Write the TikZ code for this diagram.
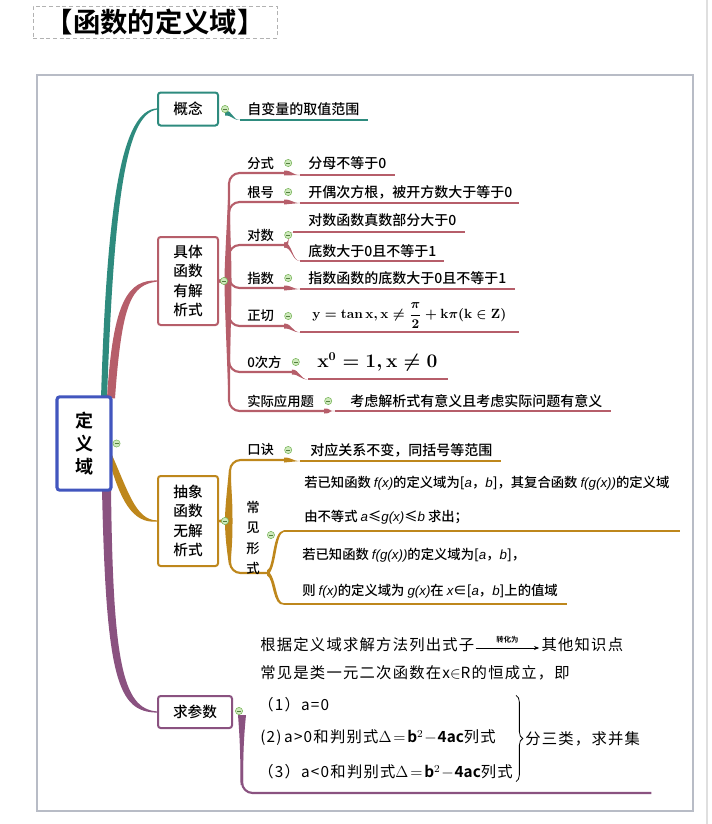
\documentclass[tikz,border=0pt]{standalone}
\usepackage{fontspec}
\setmainfont{Noto Sans CJK SC}[UprightFont=* Medium, BoldFont=* Bold]
\newfontfamily\lsans{Liberation Sans}
\newfontfamily\qfont{Noto Sans CJK SC}[LetterSpace=8.0]
\usetikzlibrary{
  arrows.meta,
  backgrounds,
  calc,
  decorations.pathreplacing,
  positioning,
}
\definecolor{cteal}{RGB}{46,139,126}
\definecolor{crose}{RGB}{182,94,106}
\definecolor{cgold}{RGB}{190,135,28}
\definecolor{cpurple}{RGB}{138,82,128}
\definecolor{cblue}{RGB}{66,86,190}
\definecolor{cframe}{RGB}{184,188,198}
\definecolor{cfold}{RGB}{206,234,188}
\definecolor{cfoldline}{RGB}{120,180,90}
\newcommand{\vi}[1]{{\lsans\itshape #1}}
% collapse mark
\newcommand{\fold}[1]{%
  \filldraw[draw=cfoldline, fill=cfold, line width=0.4pt] (#1) circle[radius=3.6];
  \draw[cfoldline!70!black, line width=0.5pt] ($(#1)+(-2,0)$) -- ($(#1)+(2,0)$);}
% tapered piece from a tag line to a leaf line
\newcommand{\twig}[3]{%
  \fill[#1] ($(#2)+(0,-2.5)$) .. controls +(8,0) and +(-8,0) .. (#3)
    .. controls +(-8,0) and +(8,0) .. ($(#2)+(0,2.5)$) -- cycle;}

\begin{document}
\begin{tikzpicture}[x=0.75pt, y=-0.75pt,
  topic/.style={draw=#1, line width=1.5pt, rounded corners=2pt, fill=white,
    inner sep=0pt, align=center, font=\fontsize{11}{14.6}\selectfont},
  tag/.style={inner sep=0pt, anchor=west, font=\fontsize{10}{12}\selectfont},
  leaf/.style={inner sep=0pt, anchor=west, font=\fontsize{10.5}{12}\selectfont},
  note/.style={inner sep=0pt, anchor=west, font=\fontsize{10}{12}\selectfont},
  qtext/.style={inner sep=0pt, anchor=west, font=\qfont\fontsize{11.5}{14}\selectfont},
  branch/.style={line width=1.6pt, rounded corners=8pt},
  uline/.style={draw=#1, line width=1.5pt},
]
\useasboundingbox (0,0) rectangle (712,824);

% title and frame
\node[draw=gray!60, dash pattern=on 3pt off 2pt, line width=0.6pt, minimum width=183pt,
  minimum height=24pt, inner sep=0pt, font=\fontsize{20.5}{24}\selectfont\bfseries]
  (title) at (155,22) {【函数的定义域】};
\draw[cframe, line width=1.1pt] (37,75) rectangle (693,811);
\draw[gray!25, line width=0.8pt] (707,0) -- (707,824);

% topics
\node[topic=cblue, line width=2.3pt, minimum width=40.5pt, minimum height=70pt,
  font=\fontsize{13.5}{17}\selectfont\bfseries] (def) at (84,443.5) {定\\义\\域};
\node[topic=cteal, minimum width=45pt, minimum height=24.75pt] (gn) at (188,109) {概念};
\node[topic=crose, minimum width=45pt, minimum height=66pt] (jt) at (188,281) {具体\\函数\\有解\\析式};
\node[topic=cgold, minimum width=45pt, minimum height=67.5pt] (ab) at (188,521) {抽象\\函数\\无解\\析式};
\node[topic=cpurple, minimum width=55.5pt, minimum height=24pt] (qc) at (195,712) {求参数};

% concept
\node[leaf] (gnc) at (247,109) {自变量的取值范围};

% explicit functions
\node[tag] (fs) at (247,163) {分式};
\node[tag] (gh) at (247,192) {根号};
\node[tag] (ds) at (247,235) {对数};
\node[tag] (zs) at (247,278) {指数};
\node[tag] (zqt) at (247,316) {正切};
\node[tag] (lc) at (247,362) {0次方};
\node[tag] (sj) at (247,401) {实际应用题};
\node[leaf] (fsc) at (308,163) {分母不等于0};
\node[leaf] (ghc) at (308,192) {开偶次方根，被开方数大于等于0};
\node[leaf] (dsa) at (308,220) {对数函数真数部分大于0};
\node[leaf] (dsb) at (308,251) {底数大于0且不等于1};
\node[leaf] (zsc) at (308,278) {指数函数的底数大于0且不等于1};
\node[leaf, font=\fontsize{10}{12}\selectfont\boldmath] (zqc) at (312,316)
  {$\mathbf{y}=\mathbf{tan}\,\mathbf{x},\mathbf{x}\neq\displaystyle\frac{\pi}{\mathbf{2}}+\mathbf{k}\pi(\mathbf{k}\in\mathbf{Z})$};
\node[leaf, font=\fontsize{13.5}{16}\selectfont\boldmath] (lcc) at (317,362)
  {$\mathbf{x}^{\mathbf{0}}=\mathbf{1},\mathbf{x}\neq\mathbf{0}$};
\node[leaf] (sjc) at (350,401) {考虑解析式有意义且考虑实际问题有意义};

% abstract functions
\node[tag] (kj) at (247,450) {口诀};
\node[leaf] (kjc) at (310,450) {对应关系不变，同括号等范围};
\node[tag, anchor=center, align=center, font=\fontsize{10}{15.4}\selectfont] (cj) at (253,538) {常\\见\\形\\式};
\node[note] (ra) at (304,483) {若已知函数 \vi{f(x)}的定义域为[\vi{a}，\vi{b}]，其复合函数 \vi{f(g(x))}的定义域};
\node[note] (rb) at (304,517) {由不等式 \vi{a}≤\vi{g(x)}≤\vi{b} 求出；};
\node[note] (rc) at (302,555) {若已知函数 \vi{f(g(x))}的定义域为[\vi{a}，\vi{b}]，};
\node[note] (rd) at (302,591) {则 \vi{f(x)}的定义域为 \vi{g(x)}在 \vi{x}∈[\vi{a}，\vi{b}]上的值域};
\coordinate (k2e) at (267,573);
\coordinate (lt) at (284,531);
\coordinate (lb) at (284,604);

% parameters
\node[qtext] (qa) at (260,645) {根据定义域求解方法列出式子};
\node[qtext, right=50pt of qa] (qb) {其他知识点};
\draw[-{Stealth[length=4pt,width=3pt]}, line width=0.6pt] ($(qa.east)+(1,3)$) --
  node[above=0pt, font=\fontsize{5.5}{6}\selectfont\bfseries] (zh) {转化为} ($(qb.west)+(-2,3)$);
\node[qtext] (qd) at (260,673) {常见是类一元二次函数在x$\in$R的恒成立，即};
\node[qtext] (q1) at (258,705) {（1）a=0};
\node[qtext] (q2) at (260,738) {(2)\,a>0和判别式$\Delta\!=\!\mathbf{b}^{2}\!-\!\mathbf{4ac}$列式};
\node[qtext] (q3) at (258,772) {（3）a<0和判别式$\Delta\!=\!\mathbf{b}^{2}\!-\!\mathbf{4ac}$列式};
\coordinate (bt) at ($(q3.east |- q1.north)+(3,-2)$);
\coordinate (bb) at ($(q3.east |- q3.south)+(3,2)$);
\draw[decorate, decoration={brace, amplitude=5pt}, line width=0.6pt] (bt) -- (bb);
\node[qtext] (q6) at ($(bt)!0.5!(bb)+(9,0)$) {分三类，求并集};
\coordinate (pb) at (250,793);

\begin{scope}[on background layer]
% main branches
\fill[cteal] ($(def.north)+(17,3)$) .. controls (107,200) and (122,110) .. ($(gn.west)+(0,-0.6)$)
  -- ($(gn.west)+(0,0.6)$) .. controls (126,114) and (114,200) .. ($(def.north)+(23,3)$) -- cycle;
\fill[crose] ($(def.north)+(23,3)$) .. controls (113,300) and (128,280) .. ($(jt.west)+(0,-0.6)$)
  -- ($(jt.west)+(0,0.6)$) .. controls (132,285) and (122,300) .. ($(def.north)+(31,3)$) -- cycle;
\fill[cgold] ($(def.east)+(-3,6)$) .. controls (128,490) and (135,520) .. ($(ab.west)+(0,-0.6)$)
  -- ($(ab.west)+(0,0.6)$) .. controls (131,524) and (120,497) .. ($(def.east)+(-3,19)$) -- cycle;
\fill[cpurple] ($(def.south)+(18,-3)$) .. controls (106,680) and (118,712) .. ($(qc.west)+(0,0.6)$)
  -- ($(qc.west)+(0,-0.6)$) .. controls (122,709) and (113,660) .. ($(def.south)+(27,-3)$) -- cycle;

% concept
\twig{cteal}{$(gn.east)+(6,4)$}{$(gnc.west)+(-7,11)$}
\draw[uline=cteal] ($(gnc.west)+(-7,11)$) -- ($(gnc.east)+(8,11)$);

% explicit functions
\foreach \l in {fs,gh,ds,zs,zqt,lc,sj}
  \draw[crose, branch] (jt.east) -- ++(10,0) |- ($(\l.east)+(10,10)$);
\fill[crose] (228,200) .. controls (225,260) and (224.5,270) .. (224.5,281)
  .. controls (224.5,292) and (225,310) .. (228,385) -- (229,385)
  .. controls (231.5,310) and (231.5,292) .. (231.5,281)
  .. controls (231.5,270) and (231.5,260) .. (229,200) -- cycle;
\twig{crose}{$(fs.east)+(10,10)$}{$(fsc.west)+(-8,12)$}
\twig{crose}{$(gh.east)+(10,10)$}{$(ghc.west)+(-8,11)$}
\twig{crose}{$(ds.east)+(10,10)$}{$(dsa.west)+(-15,12)$}
\twig{crose}{$(ds.east)+(10,10)$}{$(dsb.west)+(-8,10)$}
\twig{crose}{$(zs.east)+(10,10)$}{$(zsc.west)+(-8,11)$}
\twig{crose}{$(zqt.east)+(10,10)$}{$(zqc.south west)+(-12,3)$}
\twig{crose}{$(lc.east)+(10,10)$}{$(lcc.south west)+(-9,8)$}
\twig{crose}{$(sj.east)+(10,10)$}{$(sjc.west)+(-15,10)$}
\draw[uline=crose] ($(fsc.west)+(-8,12)$) -- ($(fsc.east)+(8,12)$);
\draw[uline=crose] ($(ghc.west)+(-8,11)$) -- ($(ghc.east)+(6,11)$);
\draw[uline=crose] ($(dsa.west)+(-15,12)$) -- ($(dsa.east)+(8,12)$);
\draw[uline=crose] ($(dsb.west)+(-8,10)$) -- ($(dsb.east)+(8,10)$);
\draw[uline=crose] ($(zsc.west)+(-8,11)$) -- ($(zsc.east)+(8,11)$);
\draw[uline=crose] ($(zqc.south west)+(-12,3)$) -- ($(zqc.south east)+(12,3)$);
\draw[uline=crose] ($(lcc.south west)+(-9,8)$) -- ($(lcc.south east)+(10,8)$);
\draw[uline=crose] ($(sjc.west)+(-15,10)$) -- ($(sjc.east)+(8,10)$);

% abstract functions
\draw[cgold, branch] (ab.east) -- ++(11,0) |- ($(kj.east)+(10,10)$);
\draw[cgold, branch] (ab.east) -- ++(11,0) |- (k2e);
\fill[cgold] (229,470) .. controls (226,500) and (225,510) .. (225,521)
  .. controls (225,532) and (226,545) .. (229,565) -- (230,565)
  .. controls (232.5,545) and (232.5,532) .. (232.5,521)
  .. controls (232.5,510) and (232.5,500) .. (230,470) -- cycle;
\twig{cgold}{$(kj.east)+(10,10)$}{$(kjc.west)+(-10,11)$}
\draw[uline=cgold] ($(kjc.west)+(-10,11)$) -- ($(kjc.east)+(8,11)$);
\fill[cgold] ($(k2e)+(0,-2.5)$) .. controls (274,568) and (272,531) .. ($(lt)+(0,-0.8)$)
  -- ($(lt)+(0,0.8)$) .. controls (275,533) and (277,570) .. ($(k2e)+(0,2.5)$) -- cycle;
\fill[cgold] ($(k2e)+(0,-2.5)$) .. controls (277,576) and (275,604) .. ($(lb)+(0,-0.8)$)
  -- ($(lb)+(0,0.8)$) .. controls (272,606) and (274,578) .. ($(k2e)+(0,2.5)$) -- cycle;
\draw[uline=cgold] (lt) -- ($(ra.east |- lt)+(10,0)$);
\draw[uline=cgold] (lb) -- ($(rd.east |- lb)+(9,0)$);

% parameters
\draw[cpurple, branch] ($(qc.east)+(9,4)$) |- ($(q6.east |- pb)+(11,0)$);
\fill[cpurple] ($(qc.east)+(5,3)$) -- ($(qc.east)+(13,3)$) .. controls (243.5,740) and (243,760) .. (243,785)
  -- (240.5,785) .. controls (240.5,760) and (240,740) .. ($(qc.east)+(5,3)$) -- cycle;
\end{scope}

% collapse marks
\fold{$(def.east)+(4,0)$}
\fold{$(gn.east)+(6,0)$}
\fold{$(jt.east)+(5,0)$}
\fold{$(ab.east)+(6,0)$}
\fold{$(qc.east)+(6,-1)$}
\foreach \l in {fs,gh,ds,zs,zqt,lc,sj,kj}
  \fold{$(\l.east)+(14,0)$};
\fold{$(cj.east)+(11,-3)$}
\end{tikzpicture}
\end{document}
